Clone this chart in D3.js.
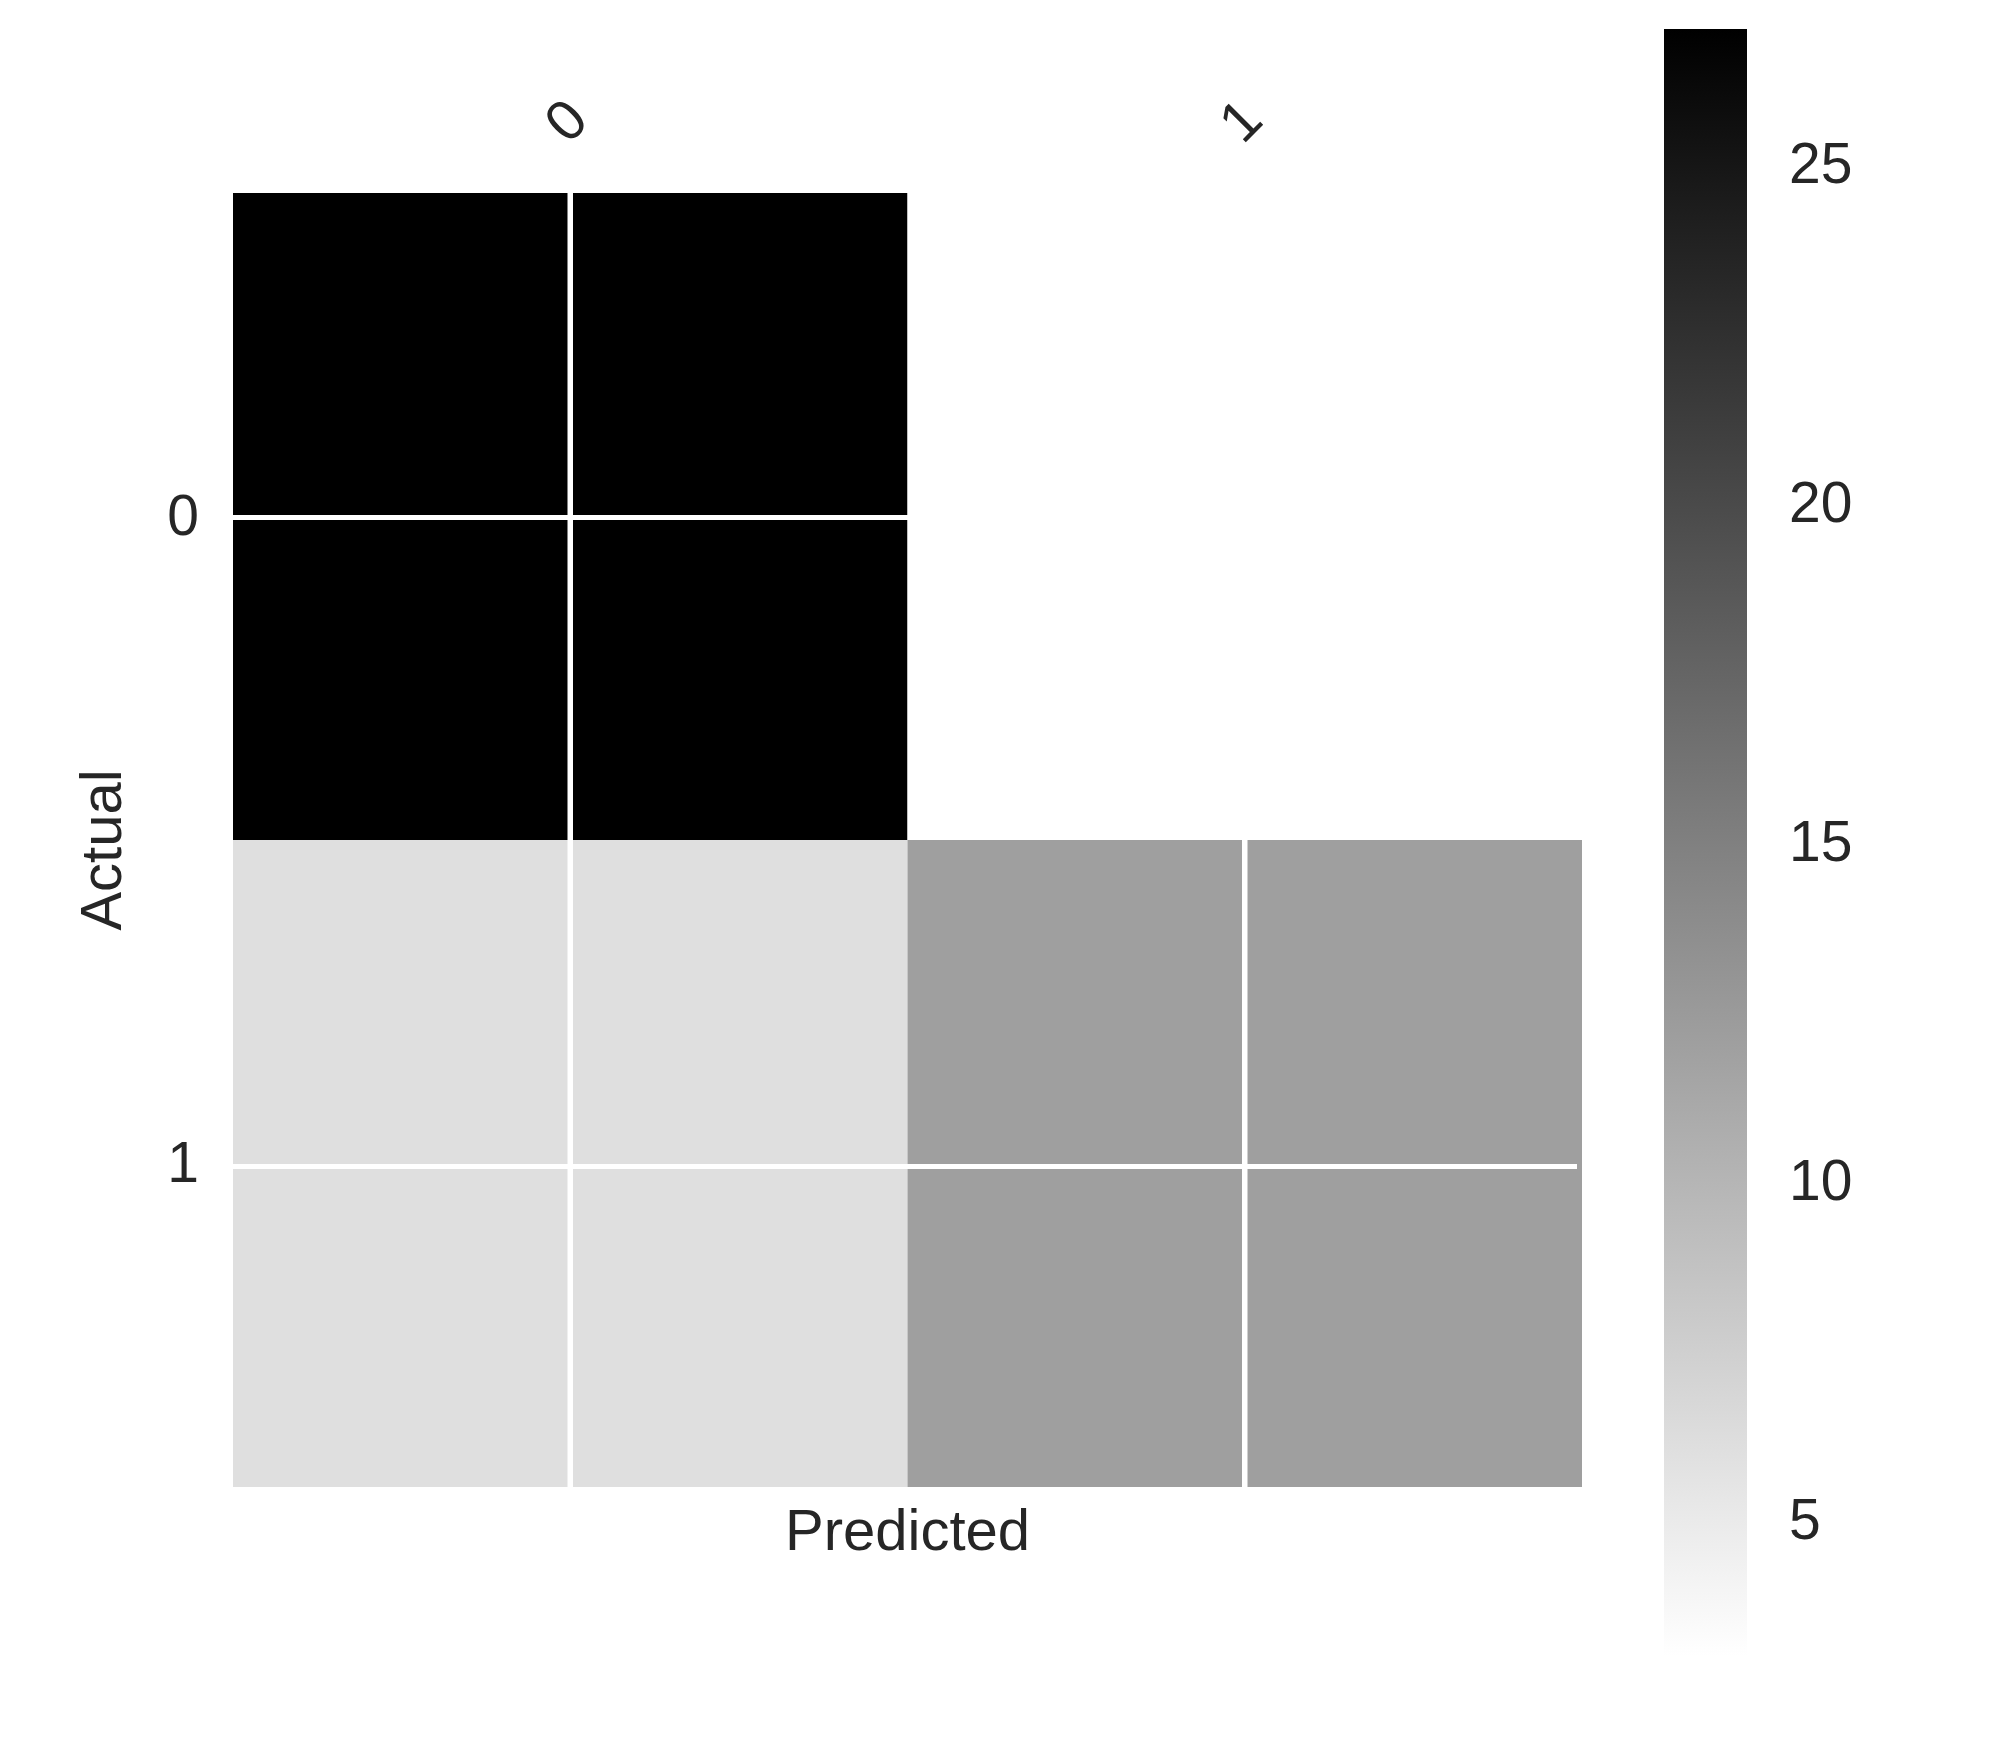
<!DOCTYPE html>
<html>
<head>
<meta charset="utf-8">
<script src="https://cdn.jsdelivr.net/npm/d3@7"></script>
<style>
  html, body { margin: 0; padding: 0; background: #ffffff; }
  svg { display: block; }
  text { font-family: "Liberation Sans", Arial, sans-serif; fill: #262626; }
</style>
</head>
<body>
<script>
// ---- data ----
const actualLabels = ["0", "1"];
const predictedLabels = ["0", "1"];
const matrixValues = [
  [27, 3],
  [6, 12]
];
const colorbarTicks = [5, 10, 15, 20, 25];
const colorDomain = [3, 27];

// ---- layout ----
const W = 2013, H = 1743;
const plot = { left: 233, right: 1582, top: 193, bottom: 1487 };
const cbar = { left: 1664, right: 1747, top: 29, bottom: 1656 };
const fontSize = 57;
const textColor = "#2e2e2e";

const svg = d3.select("body").append("svg")
  .attr("width", W).attr("height", H);

const x = d3.scaleBand().domain(predictedLabels).range([plot.left, plot.right]).padding(0);
const y = d3.scaleBand().domain(actualLabels).range([plot.top, plot.bottom]).padding(0);
const color = d3.scaleLinear().domain(colorDomain).range(["#ffffff", "#000000"]);

const cells = [];
actualLabels.forEach((a, i) => predictedLabels.forEach((p, j) => {
  cells.push({ a, p, v: matrixValues[i][j] });
}));

svg.append("g").selectAll("rect").data(cells).join("rect")
  .attr("x", d => x(d.p))
  .attr("y", d => y(d.a))
  .attr("width", x.bandwidth())
  .attr("height", y.bandwidth())
  .attr("fill", d => color(d.v));

// white grid lines through cell centres
const grid = svg.append("g");
predictedLabels.forEach(p => {
  const cx = x(p) + x.bandwidth() / 2;
  grid.append("line").attr("x1", cx).attr("x2", cx)
    .attr("y1", plot.top).attr("y2", plot.bottom)
    .attr("stroke", "#ffffff").attr("stroke-width", 5.5);
});
actualLabels.forEach((a, i) => {
  const cy = y(a) + y.bandwidth() / 2 + (i === 1 ? 3 : 1);
  grid.append("line").attr("x1", plot.left).attr("x2", plot.right - 5)
    .attr("y1", cy).attr("y2", cy)
    .attr("stroke", "#ffffff").attr("stroke-width", 5);
});

// y axis (left)
const yAxis = svg.append("g")
  .attr("transform", `translate(${plot.left - 34},0)`)
  .call(d3.axisLeft(y).tickSize(0).tickPadding(0));
yAxis.select(".domain").remove();
yAxis.selectAll("text")
  .attr("font-size", fontSize)
  .attr("font-family", "Liberation Sans, Arial, sans-serif")
  .attr("fill", textColor);

// x axis (top), labels rotated 45°
const xAxis = svg.append("g")
  .attr("transform", `translate(-5,${plot.top - 73})`)
  .call(d3.axisTop(x).tickSize(0).tickPadding(0));
xAxis.select(".domain").remove();
xAxis.selectAll("text")
  .attr("font-size", fontSize)
  .attr("font-family", "Liberation Sans, Arial, sans-serif")
  .attr("fill", textColor)
  .attr("text-anchor", "middle")
  .attr("dy", "0.35em")
  .attr("y", 0)
  .attr("transform", "rotate(-45)");

// axis titles
svg.append("text")
  .attr("x", (plot.left + plot.right) / 2)
  .attr("y", 1550)
  .attr("text-anchor", "middle")
  .attr("font-size", 58)
  .attr("fill", textColor)
  .text("Predicted");

svg.append("text")
  .attr("transform", `translate(121,${(plot.top + plot.bottom) / 2 + 10}) rotate(-90)`)
  .attr("text-anchor", "middle")
  .attr("font-size", 58)
  .attr("fill", textColor)
  .text("Actual");

// colorbar
const cy = d3.scaleLinear().domain(colorDomain).range([cbar.bottom, cbar.top]);
const defs = svg.append("defs");
const grad = defs.append("linearGradient").attr("id", "cbgrad")
  .attr("x1", 0).attr("y1", 1).attr("x2", 0).attr("y2", 0);
d3.range(0, 1.0001, 0.1).forEach(t => {
  const v = colorDomain[0] + t * (colorDomain[1] - colorDomain[0]);
  grad.append("stop").attr("offset", t).attr("stop-color", color(v));
});
svg.append("rect")
  .attr("x", cbar.left).attr("y", cbar.top)
  .attr("width", cbar.right - cbar.left)
  .attr("height", cbar.bottom - cbar.top)
  .attr("fill", "url(#cbgrad)");

const cAxis = svg.append("g")
  .attr("transform", `translate(${cbar.right + 42},0)`)
  .call(d3.axisRight(cy).tickValues(colorbarTicks).tickSize(0).tickPadding(0));
cAxis.select(".domain").remove();
cAxis.selectAll("text")
  .attr("font-size", fontSize)
  .attr("font-family", "Liberation Sans, Arial, sans-serif")
  .attr("fill", textColor);
</script>
</body>
</html>
